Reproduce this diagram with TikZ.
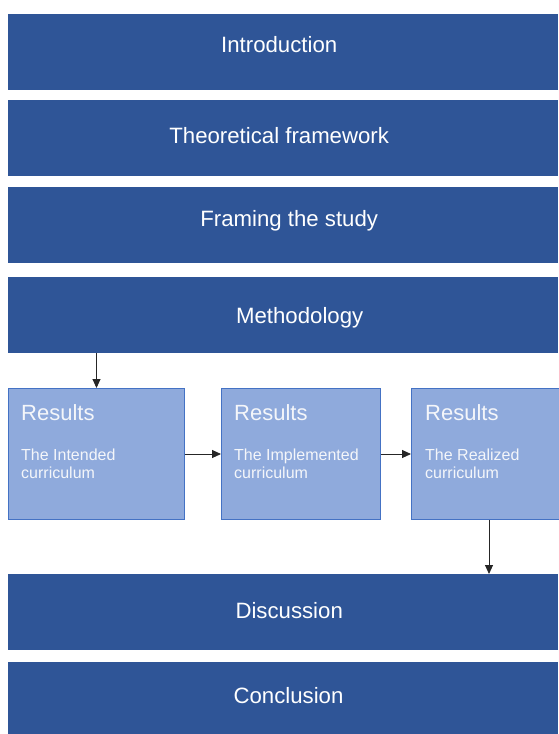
\documentclass[tikz,border=0pt]{standalone}
\usepackage{fontspec}
\setmainfont{Liberation Sans}
\usetikzlibrary{arrows.meta, calc}
\definecolor{barblue}{RGB}{47,85,151}
\definecolor{resfill}{RGB}{143,170,220}
\definecolor{resedge}{RGB}{68,114,196}
\definecolor{restext}{RGB}{244,246,250}

\begin{document}
\begin{tikzpicture}[x=1pt, y=-1pt,
	bar/.style={fill=barblue, anchor=north west, inner sep=0pt,
		minimum width=550pt, minimum height=76pt},
	bartext/.style={text=white, inner sep=0pt, anchor=base,
		font=\fontsize{22.2}{26}\selectfont},
	resbox/.style={fill=resfill, draw=resedge, line width=1pt, anchor=north west,
		inner sep=0pt, minimum height=131pt},
	restitle/.style={text=restext, inner sep=0pt, anchor=base west,
		font=\fontsize{22}{26}\selectfont},
	ressub/.style={text=restext, inner sep=0pt, anchor=north west, align=left,
		font=\fontsize{16}{18.5}\selectfont},
	flow/.style={-{Triangle[width=8pt,length=9pt]}, line width=0.9pt, black!85}]
					\useasboundingbox (0,0) rectangle (558,734);
					
					\node[bar] (intro) at (8,14) {};
					\node[bar] (theory) at (8,100) {};
					\node[bar] (framing) at (8,187) {};
					\node[bar] (method) at (8,277) {};
					\node[bar] (disc) at (8,574) {};
					\node[bar] (concl) at (8,662) {};
					
					\node[bartext] (introt) at ($(intro.center)+(-4,0.3)$) {Introduction};
					\node[bartext] (theoryt) at ($(theory.center)+(-4,5.3)$) {Theoretical framework};
					\node[bartext] (framingt) at ($(framing.center)+(6,1.7)$) {Framing the study};
					\node[bartext] (methodt) at ($(method.center)+(16.5,8.3)$) {Methodology};
					\node[bartext] (disct) at ($(disc.center)+(6,6.3)$) {Discussion};
					\node[bartext] (conclt) at ($(concl.center)+(5.3,3.3)$) {Conclusion};
					
					\node[resbox, minimum width=176pt] (res1) at (8,388) {};
					\node[resbox, minimum width=159pt] (res2) at (221,388) {};
					\node[resbox, minimum width=148pt] (res3) at (411,388) {};
					
					\node[restitle] (res1t) at ($(res1.north west)+(13,32.7)$) {Results};
					\node[restitle] (res2t) at ($(res2.north west)+(13,32.7)$) {Results};
					\node[restitle] (res3t) at ($(res3.north west)+(14,32.7)$) {Results};
					\node[ressub] (res1s) at ($(res1.north west)+(13,60.3)$) {The Intended\\curriculum};
					\node[ressub] (res2s) at ($(res2.north west)+(13,60.3)$) {The Implemented\\curriculum};
					\node[ressub] (res3s) at ($(res3.north west)+(14,60.3)$) {The Realized\\curriculum};
					
					\draw[flow] (method.south -| res1.north) -- (res1.north);
					\draw[flow] (res1.east) -- (res2.west);
					\draw[flow] (res2.east) -- (res3.west);
					\draw[flow] ([xshift=3.5pt]res3.south) -- ([xshift=3.5pt]res3.south |- disc.north);
\end{tikzpicture}
\end{document}
